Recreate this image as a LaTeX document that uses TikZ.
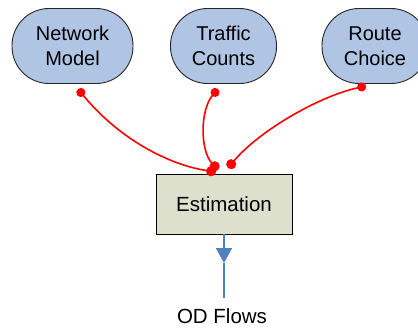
\documentclass[tikz,border=0pt]{standalone}
\usepackage{fontspec}
\setmainfont{Liberation Sans}
\usetikzlibrary{arrows.meta}
\definecolor{nodeblue}{RGB}{176,196,228}
\definecolor{estfill}{RGB}{221,224,204}
\definecolor{arrowblue}{RGB}{79,129,189}
\begin{document}
\begin{tikzpicture}[x=1pt,y=-1pt,
  inbox/.style={draw=black!85, fill=nodeblue, line width=0.9pt, rounded corners=37pt,
    minimum height=75pt, inner sep=0pt, align=center,
    font=\fontsize{20}{25.5}\selectfont},
  estbox/.style={draw=black, fill=estfill, line width=0.9pt, minimum width=136pt,
    minimum height=60pt, inner sep=0pt, font=\fontsize{20.5}{25}\selectfont},
  link/.style={red, line width=1.6pt, {Circle[length=9pt]}-{Circle[length=10pt]}},
  lbl/.style={inner sep=0pt, font=\fontsize{20.5}{25}\selectfont}]
\useasboundingbox (0,0) rectangle (418,327);
\clip (0,0) rectangle (418,327);
\node[inbox, minimum width=121pt] (nm) at (72.5,46) {Network\\Model};
\node[inbox, minimum width=106pt] (tc) at (223.5,46) {Traffic\\Counts};
\node[inbox, minimum width=106pt] (rc) at (375,46) {Route\\Choice};
\node[estbox] (est) at (224,204) {Estimation};
\node[lbl] (od) at (222,316.5) {OD Flows};
\coordinate (nmE) at (78,89);
\coordinate (tcE) at (218,89);
\coordinate (rcE) at (366,86);
\coordinate (e1) at (216,172);
\coordinate (e2) at (218,170);
\coordinate (e3) at (228,168);
\coordinate (tip) at (224,263);
\coordinate (odtop) at (224,298);
\draw[link] (nmE) .. controls (120,140) and (170,165) .. (e1);
\draw[link] (tcE) .. controls (200,110) and (200,150) .. (e2);
\draw[link] (rcE) .. controls (320,96) and (260,130) .. (e3);
\draw[arrowblue, line width=2pt] (tip) -- (odtop);
\draw[arrowblue, line width=2pt, -{Triangle[width=16pt,length=15pt]}] (est.south) -- (tip);
\end{tikzpicture}
\end{document}
